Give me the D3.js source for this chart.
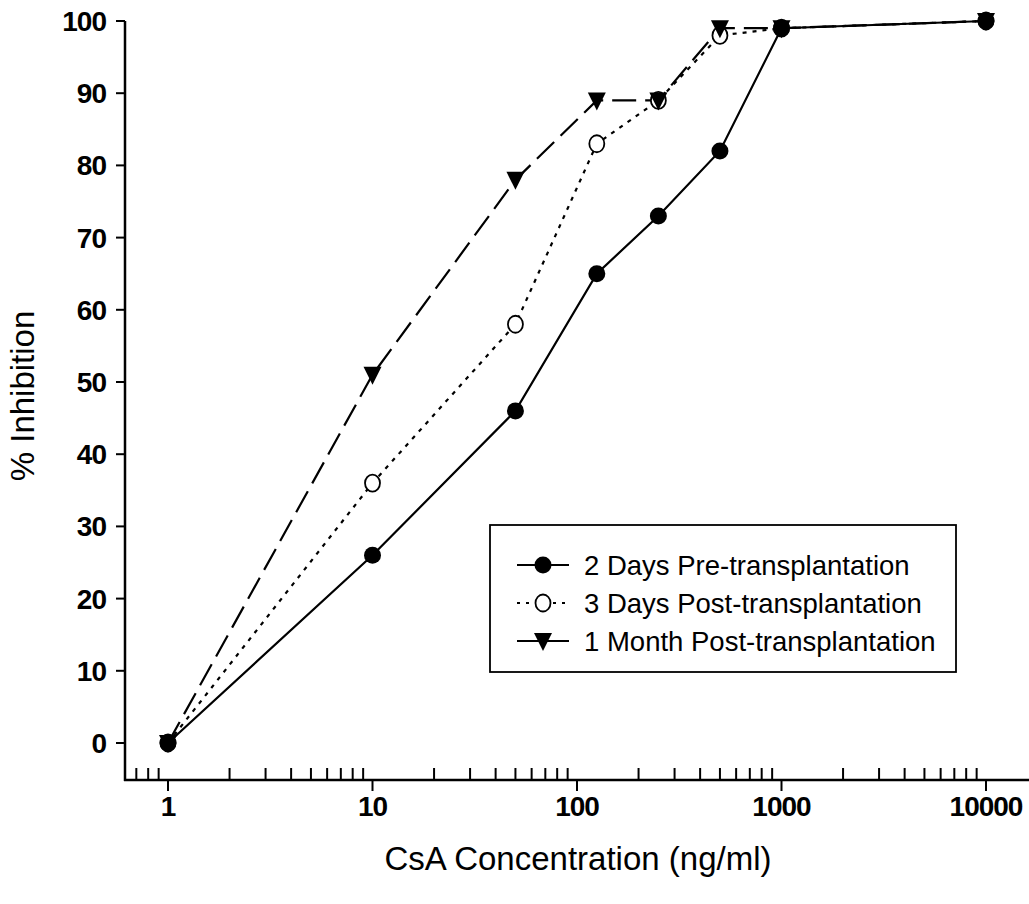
<!DOCTYPE html>
<html>
<head>
<meta charset="utf-8">
<script src="https://cdn.jsdelivr.net/npm/d3@7"></script>
<style>
  body { margin: 0; background: #fff; }
  svg { display: block; font-family: "Liberation Sans", Arial, sans-serif; }
</style>
</head>
<body>
<svg width="1029" height="904"></svg>
<script>
// data
const concentrations = [1, 10, 50, 125, 250, 500, 1000, 10000];
const preTransplant = [0, 26, 46, 65, 73, 82, 99, 100];
const post3Days = [0, 36, 58, 83, 89, 98, 99, 100];
const post1Month = [0, 51, 78, 89, 89, 99, 99, 100];
const seriesNames = ["2 Days Pre-transplantation", "3 Days Post-transplantation", "1 Month Post-transplantation"];
const yTicks = [0, 10, 20, 30, 40, 50, 60, 70, 80, 90, 100];
const xTicks = [1, 10, 100, 1000, 10000];

const svg = d3.select("svg");

const axisY = 780;   // baseline of the x axis
const axisX = 125;   // x position of the y axis

const x = d3.scaleLog().domain([1, 10000]).range([168, 986]);
const y = d3.scaleLinear().domain([0, 100]).range([743, 21]);

// ---- axes ----
// y axis
svg.append("line")
  .attr("x1", axisX).attr("x2", axisX)
  .attr("y1", y(100)).attr("y2", axisY + 1)
  .attr("stroke", "#000").attr("stroke-width", 2.5);

svg.append("g").selectAll("line")
  .data(yTicks).enter().append("line")
  .attr("x1", axisX - 9).attr("x2", axisX)
  .attr("y1", d => y(d)).attr("y2", d => y(d))
  .attr("stroke", "#000").attr("stroke-width", 2);

svg.append("g").selectAll("text")
  .data(yTicks).enter().append("text")
  .attr("x", 106).attr("y", d => y(d))
  .attr("dy", "0.36em")
  .attr("text-anchor", "end")
  .attr("font-size", 28).attr("font-weight", "bold")
  .attr("letter-spacing", -1)
  .text(d => d);

// x axis
svg.append("line")
  .attr("x1", axisX - 1).attr("x2", 1029)
  .attr("y1", axisY).attr("y2", axisY)
  .attr("stroke", "#000").attr("stroke-width", 2.5);

const minorTicks = [];
[0.1, 1, 10, 100, 1000].forEach(base => {
  for (let m = 2; m <= 9; m++) {
    const v = base * m;
    if (x(v) > axisX + 2 && x(v) < 1029) minorTicks.push(v);
  }
});

svg.append("g").selectAll("line")
  .data(minorTicks).enter().append("line")
  .attr("x1", d => x(d)).attr("x2", d => x(d))
  .attr("y1", axisY).attr("y2", axisY - 12)
  .attr("stroke", "#000").attr("stroke-width", 2);

svg.append("g").selectAll("line")
  .data(xTicks).enter().append("line")
  .attr("x1", d => x(d)).attr("x2", d => x(d))
  .attr("y1", axisY).attr("y2", axisY + 11)
  .attr("stroke", "#000").attr("stroke-width", 2);

svg.append("g").selectAll("text")
  .data(xTicks).enter().append("text")
  .attr("x", d => x(d)).attr("y", 816)
  .attr("text-anchor", "middle")
  .attr("font-size", 28).attr("font-weight", "bold")
  .attr("letter-spacing", -1)
  .text(d => d);

// axis titles
svg.append("text")
  .attr("transform", "translate(34,396) rotate(-90)")
  .attr("text-anchor", "middle")
  .attr("font-size", 33)
  .text("% Inhibition");

svg.append("text")
  .attr("x", 578).attr("y", 870)
  .attr("text-anchor", "middle")
  .attr("font-size", 33)
  .text("CsA Concentration (ng/ml)");

// ---- series ----
const series = [
  { name: seriesNames[0], values: preTransplant, dash: null, marker: "filled" },
  { name: seriesNames[1], values: post3Days, dash: "4,6", marker: "open" },
  { name: seriesNames[2], values: post1Month, dash: "24,9", marker: "triangle" }
];

const line = d3.line()
  .x(d => x(d.c))
  .y(d => y(d.v));

series.forEach(s => {
  s.points = concentrations.map((c, i) => ({ c: c, v: s.values[i] }));
  svg.append("path")
    .datum(s.points)
    .attr("d", line)
    .attr("fill", "none")
    .attr("stroke", "#000")
    .attr("stroke-width", 2.2)
    .attr("stroke-dasharray", s.dash);
});

function drawMarker(g, type, cx, cy) {
  if (type === "filled") {
    g.append("circle").attr("cx", cx).attr("cy", cy).attr("r", 8.5)
      .attr("fill", "#000");
  } else if (type === "open") {
    g.append("ellipse").attr("cx", cx).attr("cy", cy).attr("rx", 7.5).attr("ry", 8.5)
      .attr("fill", "#fff").attr("stroke", "#000").attr("stroke-width", 1.8);
  } else {
    g.append("path")
      .attr("d", `M${cx - 9},${cy - 8}L${cx + 9},${cy - 8}L${cx},${cy + 10}Z`)
      .attr("fill", "#000");
  }
}

const markers = svg.append("g");
[series[1], series[0], series[2]].forEach(s => {
  s.points.forEach(p => drawMarker(markers, s.marker, x(p.c), y(p.v)));
});

// ---- legend ----
const legend = svg.append("g");
legend.append("rect")
  .attr("x", 490).attr("y", 525)
  .attr("width", 466).attr("height", 147)
  .attr("fill", "#fff")
  .attr("stroke", "#000").attr("stroke-width", 1.8);

const legendRows = [565, 603, 641];
series.forEach((s, i) => {
  const ly = legendRows[i];
  legend.append("line")
    .attr("x1", 517).attr("x2", 569)
    .attr("y1", ly).attr("y2", ly)
    .attr("stroke", "#000").attr("stroke-width", 2.2)
    .attr("stroke-dasharray", s.dash === "4,6" ? "3,6" : null);
  drawMarker(legend, s.marker, 543, ly);
  legend.append("text")
    .attr("x", 584).attr("y", ly)
    .attr("dy", "0.36em")
    .attr("font-size", 27.5)
    .text(s.name);
});
</script>
</body>
</html>
